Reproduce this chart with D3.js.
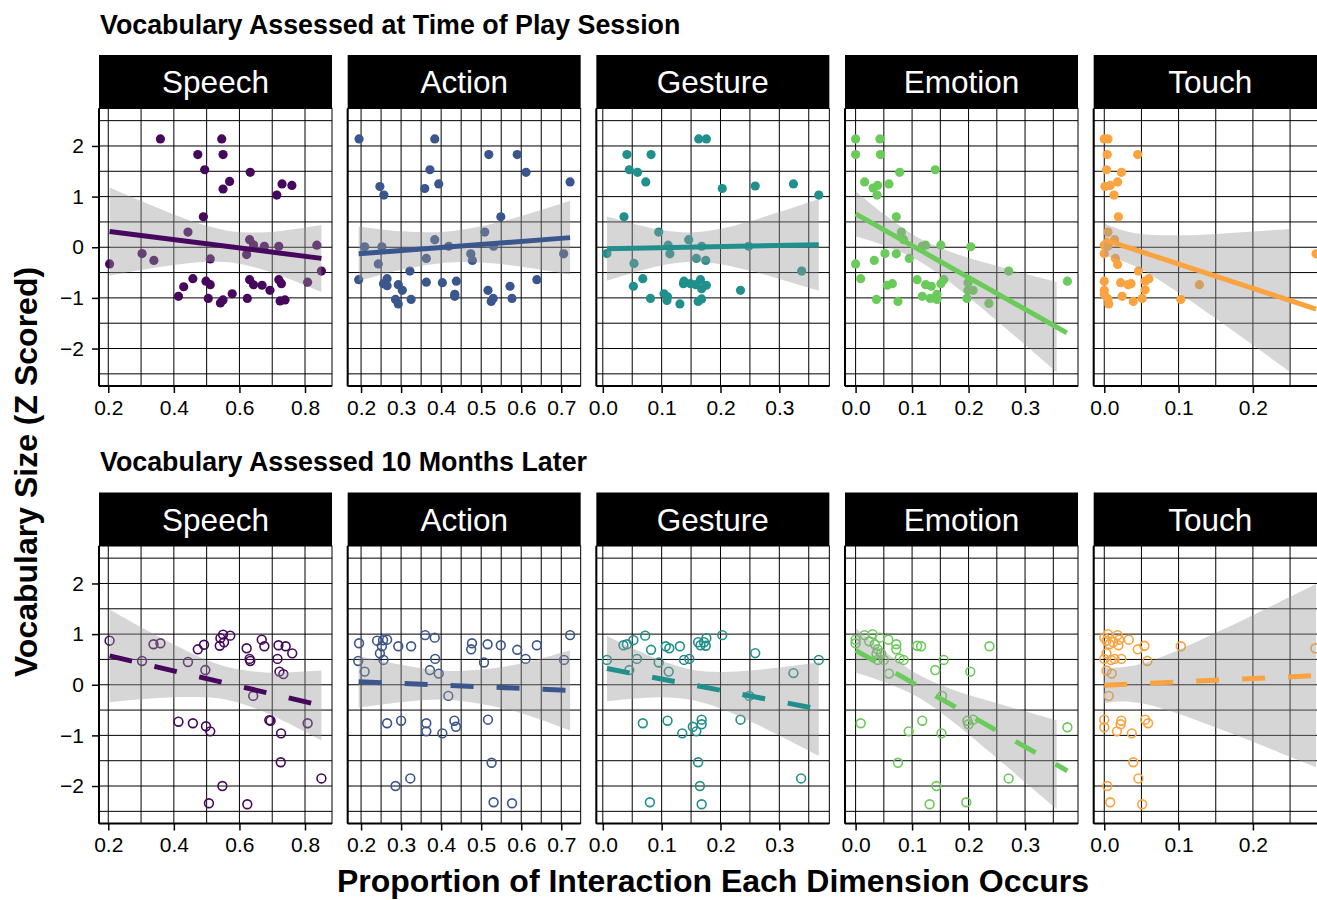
<!DOCTYPE html>
<html>
<head>
<meta charset="utf-8">
<script src="https://cdn.jsdelivr.net/npm/d3@7"></script>
<style>
  body { margin: 0; background: #fff; }
  svg { display: block; }
  text { font-family: "Liberation Sans", Arial, Helvetica, sans-serif; }
</style>
</head>
<body>
<svg id="chart" width="1317" height="900"></svg>
<script>
// ---- data ---------------------------------------------------------------
const dimensions = ["Speech", "Action", "Gesture", "Emotion", "Touch"];
const dimColors = ["#46085c", "#3b568c", "#21908c", "#6bcb5a", "#fba33f"];
const rowTitles = ["Vocabulary Assessed at Time of Play Session", "Vocabulary Assessed 10 Months Later"];
const yAxisTitle = "Vocabulary Size (Z Scored)";
const xAxisTitle = "Proportion of Interaction Each Dimension Occurs";

const yTicks = [-2, -1, 0, 1, 2];
const yLimits = [-2.74, 2.74];
const xTicksByDim = [
  [0.2, 0.4, 0.6, 0.8],
  [0.2, 0.3, 0.4, 0.5, 0.6, 0.7],
  [0.0, 0.1, 0.2, 0.3],
  [0.0, 0.1, 0.2, 0.3],
  [0.0, 0.1, 0.2]
];

// [proportion, vocabulary z] at the play session
const nowSpeech = [[0.204,-0.33],[0.359,2.14],[0.303,-0.125],[0.339,-0.26],[0.443,0.30],[0.414,-0.97],[0.43,-0.78],[0.458,-0.62],[0.473,1.83],[0.494,1.53],[0.49,0.60],[0.498,-0.67],[0.511,-0.74],[0.511,-0.23],[0.505,-1.01],[0.546,2.14],[0.55,1.83],[0.55,1.15],[0.57,1.30],[0.542,-1.10],[0.55,-1.04],[0.578,-0.92],[0.633,1.48],[0.624,-1.01],[0.631,0.15],[0.622,-0.145],[0.643,0.05],[0.631,-0.64],[0.643,-0.74],[0.676,0.02],[0.669,-0.75],[0.693,-0.85],[0.714,1.03],[0.73,1.25],[0.76,1.22],[0.72,0.02],[0.72,-0.64],[0.728,-0.72],[0.724,-1.06],[0.739,-1.04],[0.808,-0.69],[0.836,0.04],[0.85,-0.47]];
const nowAction = [[0.195,2.14],[0.384,2.14],[0.519,1.83],[0.59,1.83],[0.612,1.48],[0.722,1.29],[0.372,1.53],[0.394,1.25],[0.359,1.16],[0.247,1.20],[0.257,1.03],[0.549,0.60],[0.509,0.30],[0.384,0.15],[0.419,0.02],[0.209,0.01],[0.252,0.01],[0.531,0.02],[0.474,-0.13],[0.478,-0.26],[0.363,-0.22],[0.243,-0.33],[0.706,-0.13],[0.194,-0.64],[0.265,-0.62],[0.256,-0.72],[0.265,-0.76],[0.322,-0.47],[0.293,-0.74],[0.303,-0.85],[0.286,-1.03],[0.293,-1.12],[0.325,-1.03],[0.363,-0.69],[0.403,-0.70],[0.438,-0.67],[0.434,-0.93],[0.434,-0.97],[0.517,-0.85],[0.53,-1.01],[0.525,-1.07],[0.572,-0.77],[0.577,-1.01],[0.639,-0.64]];
const nowGesture = [[0.163,2.14],[0.176,2.14],[0.041,1.83],[0.082,1.83],[0.045,1.53],[0.059,1.48],[0.073,1.29],[0.203,1.16],[0.259,1.21],[0.324,1.25],[0.367,1.03],[0.036,0.60],[0.095,0.30],[0.146,0.15],[0.111,0.04],[0.168,0.02],[0.248,0.02],[0.007,-0.125],[0.114,-0.13],[0.159,-0.22],[0.175,-0.26],[0.053,-0.32],[0.338,-0.47],[0.068,-0.62],[0.052,-0.77],[0.138,-0.67],[0.137,-0.72],[0.149,-0.72],[0.166,-0.64],[0.176,-0.75],[0.168,-0.82],[0.234,-0.85],[0.081,-1.01],[0.104,-0.92],[0.11,-0.98],[0.109,-1.05],[0.131,-1.12],[0.162,-1.07],[0.168,-1.02],[0.158,-0.74]];
const nowEmotion = [[0.0,2.14],[0.043,2.14],[0.0,1.83],[0.044,1.83],[0.078,1.48],[0.141,1.53],[0.016,1.29],[0.031,1.17],[0.039,1.22],[0.038,1.03],[0.059,1.25],[0.072,0.60],[0.081,0.30],[0.085,0.15],[0.118,0.02],[0.124,0.04],[0.151,0.04],[0.204,0.01],[0.052,-0.125],[0.072,-0.13],[0.095,-0.22],[0.0,-0.33],[0.033,-0.26],[0.271,-0.47],[0.009,-0.62],[0.056,-0.75],[0.065,-0.72],[0.109,-0.64],[0.124,-0.74],[0.134,-0.77],[0.156,-0.64],[0.151,-0.72],[0.199,-0.70],[0.199,-0.85],[0.208,-0.85],[0.375,-0.67],[0.037,-1.03],[0.075,-1.07],[0.118,-0.97],[0.132,-1.01],[0.144,-1.03],[0.144,-0.93],[0.197,-1.01],[0.236,-1.11]];
const nowTouch = [[0.0,2.14],[0.005,2.14],[0.004,1.83],[0.045,1.83],[0.003,1.53],[0.023,1.48],[0.001,1.20],[0.008,1.22],[0.018,1.29],[0.013,1.03],[0.019,0.60],[0.005,0.30],[0.014,0.15],[0.0,0.04],[0.005,0.02],[0.0,-0.125],[0.015,-0.22],[0.018,-0.34],[0.046,-0.47],[0.0,-0.67],[0.022,-0.70],[0.032,-0.74],[0.036,-0.72],[0.055,-0.67],[0.06,-0.62],[0.055,-0.84],[0.0,-0.85],[0.0,-0.93],[0.005,-1.02],[0.006,-1.12],[0.024,-0.97],[0.039,-1.07],[0.051,-1.01],[0.103,-1.03],[0.128,-0.74],[0.285,-0.13]];

// [proportion, vocabulary z] ten months later
const laterSpeech = [[0.204,0.87],[0.303,0.47],[0.338,0.80],[0.359,0.82],[0.443,0.45],[0.414,-0.73],[0.458,-0.76],[0.473,0.70],[0.492,0.79],[0.496,0.29],[0.498,-0.82],[0.511,-0.92],[0.507,-2.34],[0.54,0.77],[0.542,0.92],[0.55,0.99],[0.553,0.84],[0.572,0.97],[0.548,-2.0],[0.622,0.72],[0.631,0.51],[0.633,0.47],[0.642,-0.22],[0.624,-2.36],[0.668,0.89],[0.676,0.76],[0.691,-0.70],[0.695,-0.71],[0.719,0.78],[0.741,0.76],[0.761,0.62],[0.716,0.51],[0.722,0.26],[0.734,0.21],[0.727,-0.96],[0.726,-1.53],[0.808,-0.76],[0.85,-1.85]];
const laterAction = [[0.195,0.82],[0.193,0.47],[0.209,0.26],[0.24,0.87],[0.255,0.88],[0.265,0.89],[0.252,0.76],[0.247,0.62],[0.256,0.49],[0.293,0.76],[0.325,0.76],[0.36,0.98],[0.384,0.93],[0.385,0.51],[0.372,0.29],[0.394,0.22],[0.418,-0.22],[0.265,-0.76],[0.30,-0.71],[0.363,-0.76],[0.363,-0.92],[0.403,-0.96],[0.433,-0.71],[0.437,-0.83],[0.286,-2.0],[0.323,-1.85],[0.477,0.82],[0.475,0.70],[0.516,0.80],[0.549,0.78],[0.507,0.44],[0.517,-0.69],[0.526,-1.54],[0.531,-2.32],[0.577,-2.34],[0.59,0.69],[0.611,0.51],[0.639,0.78],[0.722,0.98],[0.707,0.49]];
const laterGesture = [[0.007,0.49],[0.035,0.78],[0.041,0.80],[0.052,0.88],[0.072,0.97],[0.058,0.51],[0.045,0.29],[0.082,0.69],[0.095,0.44],[0.107,0.76],[0.113,0.72],[0.112,0.26],[0.131,0.76],[0.138,0.49],[0.147,0.51],[0.162,0.84],[0.166,0.78],[0.172,0.84],[0.176,0.92],[0.175,0.77],[0.203,0.98],[0.259,0.625],[0.324,0.23],[0.367,0.49],[0.249,-0.22],[0.068,-0.76],[0.11,-0.71],[0.135,-0.96],[0.153,-0.83],[0.159,-0.92],[0.168,-0.69],[0.168,-0.78],[0.234,-0.69],[0.162,-1.53],[0.165,-2.0],[0.168,-2.36],[0.08,-2.32],[0.337,-1.85]];
const laterEmotion = [[0.0,0.89],[0.0,0.82],[0.016,0.98],[0.03,1.0],[0.043,0.93],[0.034,0.80],[0.039,0.70],[0.037,0.61],[0.039,0.49],[0.05,0.49],[0.058,0.89],[0.072,0.80],[0.072,0.70],[0.078,0.52],[0.085,0.49],[0.059,0.22],[0.109,0.77],[0.116,0.76],[0.156,0.49],[0.141,0.29],[0.237,0.76],[0.203,0.26],[0.153,-0.22],[0.009,-0.76],[0.094,-0.92],[0.118,-0.71],[0.152,-0.96],[0.198,-0.71],[0.2,-0.78],[0.208,-0.69],[0.375,-0.84],[0.075,-1.54],[0.143,-2.0],[0.131,-2.36],[0.196,-2.32],[0.271,-1.85],[0.024,0.86],[0.045,0.62]];
const laterTouch = [[0.0,0.93],[0.005,1.0],[0.018,0.98],[0.02,0.89],[0.003,0.87],[0.007,0.80],[0.019,0.78],[0.033,0.89],[0.054,0.77],[0.045,0.70],[0.058,0.47],[0.103,0.76],[0.003,0.62],[0.0,0.51],[0.009,0.49],[0.014,0.51],[0.023,0.51],[0.003,0.28],[0.01,0.22],[0.006,-0.22],[0.284,0.72],[0.0,-0.69],[0.0,-0.84],[0.017,-0.92],[0.023,-0.71],[0.022,-0.78],[0.037,-0.96],[0.055,-0.69],[0.059,-0.76],[0.039,-1.53],[0.046,-1.85],[0.004,-2.0],[0.008,-2.32],[0.051,-2.36],[0.012,0.84]];

// linear fits: [x start, y start, x end, y end]
const fitsNow = [[0.204,0.31,0.85,-0.22],[0.194,-0.13,0.722,0.19],[0.007,-0.03,0.367,0.05],[0.0,0.66,0.374,-1.69],[0.0,0.15,0.285,-1.22]];
const fitsLater = [[0.204,0.57,0.85,-0.41],[0.194,0.06,0.722,-0.11],[0.007,0.32,0.367,-0.48],[0.0,0.68,0.375,-1.70],[0.0,-0.01,0.285,0.18]];

// confidence band half-widths around each fit: [x, half-width]
const bandNowSpeech = [[0.204,0.87],[0.3,0.68],[0.4,0.50],[0.5,0.355],[0.58,0.31],[0.68,0.378],[0.77,0.515],[0.85,0.66]];
const bandNowAction = [[0.194,0.54],[0.3,0.38],[0.41,0.305],[0.5,0.357],[0.6,0.50],[0.722,0.73]];
const bandNowGesture = [[0.007,0.635],[0.05,0.49],[0.1,0.35],[0.15,0.29],[0.2,0.35],[0.25,0.49],[0.3,0.66],[0.367,0.905]];
const bandNowEmotion = [[0.0,0.445],[0.05,0.31],[0.11,0.224],[0.17,0.31],[0.24,0.51],[0.3,0.70],[0.356,0.89]];
const bandNowTouch = [[0.0,0.323],[0.02,0.30],[0.05,0.35],[0.1,0.566],[0.15,0.835],[0.2,1.12],[0.25,1.41]];
const bandLaterSpeech = [[0.204,0.915],[0.3,0.71],[0.4,0.52],[0.5,0.37],[0.58,0.325],[0.68,0.395],[0.77,0.54],[0.85,0.69]];
const bandLaterAction = [[0.194,0.51],[0.3,0.37],[0.41,0.285],[0.5,0.34],[0.6,0.49],[0.722,0.79]];
const bandLaterGesture = [[0.007,0.645],[0.05,0.50],[0.1,0.36],[0.15,0.30],[0.2,0.36],[0.25,0.50],[0.3,0.67],[0.367,0.925]];
const bandLaterEmotion = [[0.0,0.44],[0.05,0.31],[0.11,0.224],[0.17,0.31],[0.24,0.51],[0.3,0.70],[0.356,0.875]];
const bandLaterTouch = [[0.0,0.355],[0.02,0.335],[0.05,0.39],[0.1,0.63],[0.15,0.935],[0.2,1.25],[0.25,1.58],[0.285,1.81]];

const rows = [
  { title: rowTitles[0], points: [nowSpeech, nowAction, nowGesture, nowEmotion, nowTouch],
    fits: fitsNow, bands: [bandNowSpeech, bandNowAction, bandNowGesture, bandNowEmotion, bandNowTouch],
    filled: true, titleY: 34, stripTop: 55, plotTop: 108.5 },
  { title: rowTitles[1], points: [laterSpeech, laterAction, laterGesture, laterEmotion, laterTouch],
    fits: fitsLater, bands: [bandLaterSpeech, bandLaterAction, bandLaterGesture, bandLaterEmotion, bandLaterTouch],
    filled: false, titleY: 471, stripTop: 492.5, plotTop: 546 }
];

// ---- layout -------------------------------------------------------------
const panelLeft0 = 99, panelStep = 248.67, panelW = 233, plotH = 277.5;
const svg = d3.select("#chart");
svg.append("rect").attr("width", 1317).attr("height", 900).attr("fill", "#fff");

// shared x domain per dimension (both rows plot the same proportions), 5% padding
const xDomains = dimensions.map((d, i) => {
  const ext = d3.extent(rows[0].points[i].concat(rows[1].points[i]), p => p[0]);
  const pad = (ext[1] - ext[0]) * 0.05;
  return [ext[0] - pad, ext[1] + pad];
});

const fmtX = d3.format(".1f");
const yGrid = d3.range(-2.5, 2.51, 0.5);

rows.forEach((row, ri) => {
  svg.append("text")
    .attr("x", 100).attr("y", row.titleY)
    .attr("font-size", 26.8).attr("font-weight", "bold")
    .text(row.title);

  const y = d3.scaleLinear().domain(yLimits).range([row.plotTop + plotH, row.plotTop]);

  dimensions.forEach((dim, di) => {
    const left = panelLeft0 + di * panelStep;
    const x = d3.scaleLinear().domain(xDomains[di]).range([0, panelW]);
    const g = svg.append("g").attr("transform", `translate(${left},0)`);
    const clipId = `clip-${ri}-${di}`;
    g.append("clipPath").attr("id", clipId)
      .append("rect").attr("x", 0).attr("y", row.plotTop).attr("width", panelW).attr("height", plotH);

    // strip
    g.append("rect").attr("x", 0).attr("y", row.stripTop)
      .attr("width", panelW).attr("height", row.plotTop - row.stripTop).attr("fill", "#000");
    g.append("text").attr("x", panelW / 2).attr("y", (row.stripTop + row.plotTop) / 2)
      .attr("dy", "0.36em").attr("text-anchor", "middle")
      .attr("fill", "#fff").attr("font-size", 31.5).text(dim);

    // grid: major ticks plus midpoints between them
    const ticks = xTicksByDim[di];
    const step = ticks[1] - ticks[0];
    const xs = x.domain();
    const xGrid = d3.range(ticks[0] - step / 2, ticks[ticks.length - 1] + step, step / 2)
      .map(v => +v.toFixed(4))
      .filter(v => v > xs[0] && v < xs[1]);
    const grid = g.append("g").attr("stroke", "#000").attr("stroke-width", 1);
    grid.selectAll("line.v").data(xGrid).join("line").attr("class", "v")
      .attr("x1", d => x(d)).attr("x2", d => x(d))
      .attr("y1", row.plotTop).attr("y2", row.plotTop + plotH);
    grid.selectAll("line.h").data(yGrid).join("line").attr("class", "h")
      .attr("x1", 0).attr("x2", panelW)
      .attr("y1", d => y(d)).attr("y2", d => y(d));

    const body = g.append("g").attr("clip-path", `url(#${clipId})`);
    const color = dimColors[di];

    // points
    body.selectAll("circle").data(row.points[di]).join("circle")
      .attr("cx", d => x(d[0])).attr("cy", d => y(d[1]))
      .attr("r", row.filled ? 4.6 : 4.4)
      .attr("fill", row.filled ? color : "none")
      .attr("stroke", color)
      .attr("stroke-width", row.filled ? 0 : 1.6);

    // fit line and its confidence band
    const f = row.fits[di];
    const fitAt = v => f[1] + (v - f[0]) * (f[3] - f[1]) / (f[2] - f[0]);
    body.append("path").datum(row.bands[di])
      .attr("d", d3.area()
        .x(d => x(d[0]))
        .y0(d => y(fitAt(d[0]) - d[1]))
        .y1(d => y(fitAt(d[0]) + d[1]))
        .curve(d3.curveCatmullRom))
      .attr("fill", "#999999").attr("fill-opacity", 0.4);
    body.append("path").datum([[f[0], f[1]], [f[2], f[3]]])
      .attr("d", d3.line().x(d => x(d[0])).y(d => y(d[1])))
      .attr("stroke", color).attr("stroke-width", 5).attr("fill", "none")
      .attr("stroke-dasharray", row.filled ? null : "23,23");

    // panel border with heavier axis lines
    g.append("rect").attr("x", 0).attr("y", row.plotTop).attr("width", panelW).attr("height", plotH)
      .attr("fill", "none").attr("stroke", "#000").attr("stroke-width", 1);
    g.append("line").attr("x1", 0).attr("x2", 0).attr("y1", row.plotTop).attr("y2", row.plotTop + plotH)
      .attr("stroke", "#000").attr("stroke-width", 2);
    g.append("line").attr("x1", 0).attr("x2", panelW).attr("y1", row.plotTop + plotH).attr("y2", row.plotTop + plotH)
      .attr("stroke", "#000").attr("stroke-width", 2);

    // x axis
    const xAxis = g.append("g").attr("transform", `translate(0,${row.plotTop + plotH})`)
      .call(d3.axisBottom(x).tickValues(ticks).tickFormat(fmtX).tickSize(7).tickPadding(7));
    xAxis.select(".domain").remove();
    xAxis.selectAll("line").attr("stroke", "#000").attr("stroke-width", 1.5);
    xAxis.selectAll("text").attr("font-size", 21).attr("fill", "#000")
      .attr("font-family", '"Liberation Sans", Arial, sans-serif');

    // y axis labels only on the first panel of each row
    if (di === 0) {
      const yAxis = g.append("g")
        .call(d3.axisLeft(y).tickValues(yTicks).tickFormat(d3.format("d")).tickSize(7).tickPadding(8));
      yAxis.select(".domain").remove();
      yAxis.selectAll("line").attr("stroke", "#000").attr("stroke-width", 1.5);
      yAxis.selectAll("text").attr("font-size", 21).attr("fill", "#000")
        .attr("font-family", '"Liberation Sans", Arial, sans-serif');
    }
  });
});

// axis titles
svg.append("text")
  .attr("transform", "translate(37,472) rotate(-90)")
  .attr("text-anchor", "middle").attr("font-size", 32).attr("font-weight", "bold")
  .text(yAxisTitle);
svg.append("text")
  .attr("x", 713).attr("y", 892)
  .attr("text-anchor", "middle").attr("font-size", 32).attr("font-weight", "bold")
  .text(xAxisTitle);
</script>
</body>
</html>
